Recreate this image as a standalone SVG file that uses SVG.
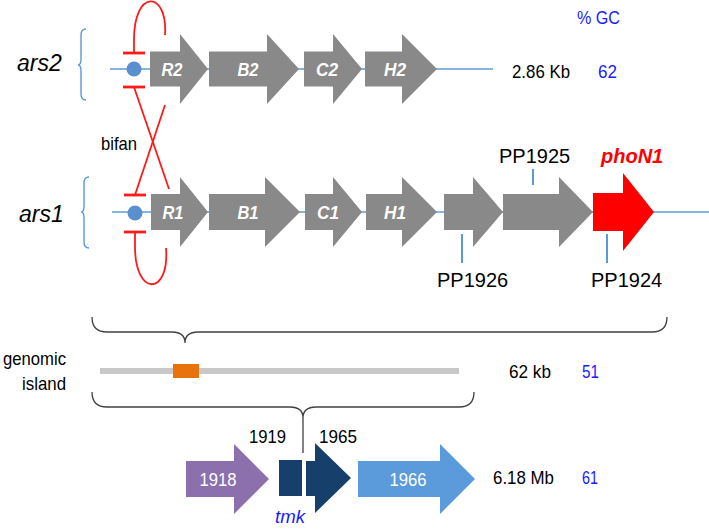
<svg xmlns="http://www.w3.org/2000/svg" width="709" height="529" viewBox="0 0 709 529">
<style>
  text { font-family: "Liberation Sans", Arial, sans-serif; }
  .gene { fill: #898989; }
  .glab { fill: #ffffff; font-size: 19px; font-weight: bold; font-style: italic; text-anchor: middle; }
  .wlab { fill: #ffffff; font-size: 19px; text-anchor: middle; }
  .blk { fill: #000000; font-size: 18.5px; }
  .pp { fill: #000000; font-size: 20px; }
  .gc { fill: #1a1aff; font-size: 18.5px; }
  .dna { stroke: #5b9bd5; stroke-width: 1.6; fill: none; }
  .bb { stroke: #5b9bd5; stroke-width: 1.4; fill: none; }
  .red { stroke: #ff1a1a; stroke-width: 1.8; fill: none; }
  .tbar { stroke: #ff1a1a; stroke-width: 2.8; fill: none; }
  .brace { stroke: #404040; stroke-width: 1.3; fill: none; }
  .tick { stroke: #5b9bd5; stroke-width: 2; }
</style>
<rect width="709" height="529" fill="#ffffff"/>

<!-- backbone lines and braces -->
<g id="connectors">
  <line class="dna" x1="110" y1="69" x2="493" y2="69"/>
  <line class="dna" x1="112" y1="212" x2="709" y2="212"/>
  <path class="bb" d="M86,29 Q81,29 81,35 L81,59 Q81,65 78,65 Q81,65 81,71 L81,94 Q81,100 86,100"/>
  <path class="bb" d="M89,177 Q84,177 84,183 L84,206 Q84,212 81,212 Q84,212 84,218 L84,242 Q84,248 89,248"/>
  <!-- regulation -->
  <path class="red" d="M134,53 L134,42 C133,-12 168,-10 165,35"/>
  <path class="red" d="M135,232 L135,244 C134,298 170,296 166,248"/>
  <line class="red" x1="134" y1="87" x2="169" y2="189"/>
  <line class="red" x1="165" y1="105" x2="135" y2="195"/>
  <line class="tbar" x1="123" y1="53" x2="145" y2="53"/>
  <line class="tbar" x1="123" y1="87" x2="145" y2="87"/>
  <line class="tbar" x1="124" y1="195" x2="146" y2="195"/>
  <line class="tbar" x1="124" y1="232" x2="146" y2="232"/>
  <!-- locus ticks -->
  <line class="tick" x1="533" y1="169" x2="533" y2="185"/>
  <line class="tick" x1="462" y1="234" x2="462" y2="263"/>
  <line class="tick" x1="607" y1="234" x2="607" y2="263"/>
  <!-- bottom braces -->
  <path class="brace" d="M92,317 Q92,332 107,332 L172,332 Q185,332 185,343 Q185,332 198,332 L652,332 Q667,332 667,317"/>
  <path class="brace" d="M92,392 Q92,407 107,407 L290,407 Q303,407 303,418 Q303,407 316,407 L459,407 Q474,407 474,392"/>
  <line class="brace" x1="303" y1="418" x2="303" y2="453"/>
</g>

<!-- ars2 operon -->
<g id="ars2">
  <text x="17" y="71" style="font-size:23px;font-style:italic" fill="#000">ars2</text>
  <circle cx="134" cy="69" r="7.5" fill="#5b8fcf"/>
</g>
<g id="R2"><polygon class="gene" points="150,51.5 180,51.5 180,34 208,69 180,104 180,86.5 150,86.5"/><text class="glab" x="172" y="76" textLength="21" lengthAdjust="spacingAndGlyphs">R2</text></g>
<g id="B2"><polygon class="gene" points="209,51.5 267,51.5 267,34 299,69 267,104 267,86.5 209,86.5"/><text class="glab" x="248" y="76" textLength="21" lengthAdjust="spacingAndGlyphs">B2</text></g>
<g id="C2"><polygon class="gene" points="304,51.5 333,51.5 333,34 362,69 333,104 333,86.5 304,86.5"/><text class="glab" x="327" y="76" textLength="22" lengthAdjust="spacingAndGlyphs">C2</text></g>
<g id="H2"><polygon class="gene" points="365,51.5 402,51.5 402,34 437,69 402,104 402,86.5 365,86.5"/><text class="glab" x="395" y="76" textLength="22" lengthAdjust="spacingAndGlyphs">H2</text></g>
<g id="ars2-info">
  <text class="gc" x="577" y="24" textLength="43" lengthAdjust="spacingAndGlyphs">% GC</text>
  <text class="blk" x="512" y="78" textLength="58" lengthAdjust="spacingAndGlyphs">2.86 Kb</text>
  <text class="gc" x="598" y="78" textLength="19" lengthAdjust="spacingAndGlyphs">62</text>
</g>

<g id="bifan"><text class="blk" x="101" y="150" textLength="36" lengthAdjust="spacingAndGlyphs">bifan</text></g>

<!-- ars1 operon -->
<g id="ars1">
  <text x="19" y="222" style="font-size:23px;font-style:italic" fill="#000">ars1</text>
  <circle cx="135" cy="213" r="7.5" fill="#5b8fcf"/>
</g>
<g id="R1"><polygon class="gene" points="151,194 180,194 180,177 208,212 180,247 180,230 151,230"/><text class="glab" x="173" y="219" textLength="21" lengthAdjust="spacingAndGlyphs">R1</text></g>
<g id="B1"><polygon class="gene" points="209,194 265,194 265,177 300,212 265,247 265,230 209,230"/><text class="glab" x="248" y="219" textLength="21" lengthAdjust="spacingAndGlyphs">B1</text></g>
<g id="C1"><polygon class="gene" points="305,194 333,194 333,177 362,212 333,247 333,230 305,230"/><text class="glab" x="328" y="219" textLength="22" lengthAdjust="spacingAndGlyphs">C1</text></g>
<g id="H1"><polygon class="gene" points="366,194 402,194 402,177 437,212 402,247 402,230 366,230"/><text class="glab" x="395" y="219" textLength="22" lengthAdjust="spacingAndGlyphs">H1</text></g>
<g id="PP1926"><polygon class="gene" points="444,194 473,194 473,177 503,212 473,247 473,230 444,230"/><text class="pp" x="437" y="287">PP1926</text></g>
<g id="PP1925"><polygon class="gene" points="503,194 559,194 559,177 593,212 559,247 559,230 503,230"/><text class="pp" x="499" y="163">PP1925</text></g>
<g id="phoN1"><polygon fill="#ff0000" points="593,193 623,193 623,173 654,212 623,251 623,231 593,231"/><text x="601" y="163" style="font-size:20px;font-weight:bold;font-style:italic" fill="#ff0000">phoN1</text></g>
<g id="PP1924"><text class="pp" x="591" y="287">PP1924</text></g>

<!-- genomic island -->
<g id="genomic-island">
  <text class="blk" x="3" y="365" textLength="63" lengthAdjust="spacingAndGlyphs">genomic</text>
  <text class="blk" x="22" y="390" textLength="44" lengthAdjust="spacingAndGlyphs">island</text>
  <rect x="100" y="368" width="359" height="6" fill="#c8c8c8"/>
  <rect x="173" y="364" width="26" height="14" fill="#e8730c"/>
  <text class="blk" x="509" y="378" textLength="42" lengthAdjust="spacingAndGlyphs">62 kb</text>
  <text class="gc" x="582" y="378" textLength="17" lengthAdjust="spacingAndGlyphs">51</text>
</g>

<!-- chromosome -->
<g id="g1918"><polygon fill="#8c6fad" points="186,461 234,461 234,444 269,479 234,514 234,497 186,497"/><text class="wlab" x="218" y="486" textLength="37" lengthAdjust="spacingAndGlyphs">1918</text></g>
<g id="g1919"><rect x="279" y="460" width="23" height="36" fill="#173f6b"/><text class="blk" x="249" y="443" textLength="37" lengthAdjust="spacingAndGlyphs">1919</text></g>
<g id="g1965"><polygon fill="#173f6b" points="306,461 315,461 315,443 351,478 315,513 315,496 306,496"/><text class="blk" x="319" y="443" textLength="38" lengthAdjust="spacingAndGlyphs">1965</text></g>
<g id="tmk"><text x="290" y="523" text-anchor="middle" style="font-size:19px;font-style:italic" fill="#1a1aff" textLength="30" lengthAdjust="spacingAndGlyphs">tmk</text></g>
<g id="g1966"><polygon fill="#5b9bdb" points="358,461 440,461 440,444 475,479 440,514 440,497 358,497"/><text class="wlab" x="408" y="486" textLength="37" lengthAdjust="spacingAndGlyphs">1966</text></g>
<g id="chromosome-info">
  <text class="blk" x="493" y="484" textLength="61" lengthAdjust="spacingAndGlyphs">6.18 Mb</text>
  <text class="gc" x="582" y="484" textLength="16" lengthAdjust="spacingAndGlyphs">61</text>
</g>
</svg>
